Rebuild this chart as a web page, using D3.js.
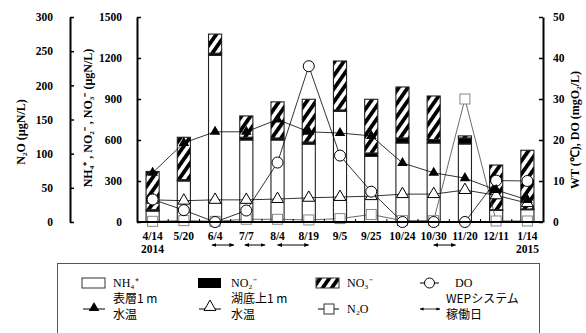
<!DOCTYPE html>
<html>
<head>
<meta charset="utf-8">
<script src="https://cdn.jsdelivr.net/npm/d3@7"></script>
<style>
body { margin:0; background:#fff; }
svg { display:block; }
</style>
</head>
<body>
<script>
// 0.1 data
var dates = ["4/14","5/20","6/4","7/7","8/4","8/19","9/5","9/25","10/24","10/30","11/20","12/11","1/14"];
var years = ["2014","","","","","","","","","","","","2015"];
var nh4 = [80,300,1220,600,600,570,810,480,578,578,571,85,90];
var no2 = [10,10,15,20,15,15,10,25,37,25,44,5,5];
var no3 = [280,310,140,156,264,313,358,393,373,319,15,327,430];
var wtSurface = [12,19.3,22,22,25,22,21.7,21,14.4,12,10.7,7.8,5.4];
var wtBottom = [5.4,5.2,5.4,5.4,5.6,5.9,6.1,6.3,6.8,6.8,7.8,6.5,4.6];
var doVal = [5.5,2.9,0,2.8,14.5,38,16.2,7.4,0,0,0,10.1,10];
var n2o = [1,2,1,4,4,3,5,11,2,2,180,1.5,1.5];
// WEP system operation periods, in category index units
var wepRuns = [[1.9,2.6],[2.95,3.6],[4,5],[9,9.7]];
var ticksN2O = [0,50,100,150,200,250,300];
var ticksN = [0,300,600,900,1200,1500];
var ticksR = [0,10,20,30,40,50];

var W = 586, H = 333;
var plotL = 137, plotR = 543, plotT = 17, plotB = 222;
var serif = '"Liberation Serif", "Times New Roman", serif';
var jfont = '"Noto Sans CJK JP", sans-serif';

var svg = d3.select('body').append('svg').attr('width', W).attr('height', H);

// hatch for NO3
var defs = svg.append('defs');
var pat = defs.append('pattern')
    .attr('id', 'hatch').attr('patternUnits', 'userSpaceOnUse')
    .attr('width', 7.5).attr('height', 7.5)
    .attr('patternTransform', 'rotate(35)');
pat.append('rect').attr('width', 7.5).attr('height', 7.5).attr('fill', '#fff');
pat.append('rect').attr('x', 0).attr('width', 3.8).attr('height', 7.5).attr('fill', '#000');

// 0.2 scales
var x = d3.scaleBand().domain(dates).range([plotL, plotR]).paddingInner(0.58).paddingOuter(0.29);
var step = x.step();
var cx = function(i){ return x(dates[i]) + x.bandwidth()/2; };
var idxX = function(v){ return plotL + step*(v+0.5); };
var yN2O = d3.scaleLinear().domain([0,300]).range([plotB, plotT]);
var yN = d3.scaleLinear().domain([0,1500]).range([plotB, plotT]);
var yR = d3.scaleLinear().domain([0,50]).range([plotB, plotT]);

// 1. stacked bars
var stackData = dates.map(function(d,i){ return {date:d, nh4:nh4[i], no2:no2[i], no3:no3[i]}; });
var series = d3.stack().keys(['nh4','no2','no3'])(stackData);
var fills = {nh4:'#fff', no2:'#000', no3:'url(#hatch)'};
svg.append('g').selectAll('g').data(series).join('g')
    .attr('fill', function(s){ return fills[s.key]; })
    .selectAll('rect').data(function(s){ return s; }).join('rect')
    .attr('x', function(d){ return x(d.data.date); })
    .attr('width', x.bandwidth())
    .attr('y', function(d){ return yN(d[1]); })
    .attr('height', function(d){ return yN(d[0]) - yN(d[1]); })
    .attr('stroke', '#222').attr('stroke-width', 1.1);

// 2. lines and markers
function addLine(vals, scale, col){
    var ln = d3.line().x(function(d,i){ return cx(i); }).y(function(d){ return scale(d); });
    svg.append('path').datum(vals).attr('d', ln)
        .attr('fill', 'none').attr('stroke', col).attr('stroke-width', 0.8);
}
addLine(n2o, yN2O, '#444');
addLine(wtBottom, yR, '#000');
addLine(doVal, yR, '#000');
addLine(wtSurface, yR, '#000');

var triUp = d3.symbol().type(d3.symbolTriangle);
svg.append('g').selectAll('rect').data(n2o).join('rect')
    .attr('x', function(d,i){ return cx(i)-5; }).attr('y', function(d){ return yN2O(d)-5; })
    .attr('width', 10).attr('height', 10)
    .attr('fill', '#fff').attr('stroke', '#888').attr('stroke-width', 1);
svg.append('g').selectAll('path').data(wtBottom).join('path')
    .attr('d', triUp.size(62))
    .attr('transform', function(d,i){ return 'translate(' + cx(i) + ',' + yR(d) + ')'; })
    .attr('fill', '#fff').attr('stroke', '#000').attr('stroke-width', 1);
svg.append('g').selectAll('circle').data(doVal).join('circle')
    .attr('cx', function(d,i){ return cx(i); }).attr('cy', function(d){ return yR(d); })
    .attr('r', 5.5).attr('fill', '#fff').attr('stroke', '#000').attr('stroke-width', 1);
svg.append('g').selectAll('path').data(wtSurface).join('path')
    .attr('d', triUp.size(48))
    .attr('transform', function(d,i){ return 'translate(' + cx(i) + ',' + yR(d) + ')'; })
    .attr('fill', '#000');

// 3. axes
function styleAxis(g){
    g.attr('font-family', null).attr('font-size', null);
    g.select('.domain').attr('stroke-width', 2);
    g.selectAll('.tick line').attr('stroke-width', 1.5);
    g.selectAll('.tick text')
        .style('font-family', serif).style('font-weight', 'bold').style('font-size', '11.5px');
}
var fmt = d3.format('d');
svg.append('g').attr('transform', 'translate(70,0)')
    .call(d3.axisLeft(yN2O).tickValues(ticksN2O).tickFormat(fmt).tickSizeInner(-4).tickSizeOuter(0).tickPadding(17))
    .call(styleAxis);
svg.append('g').attr('transform', 'translate(' + plotL + ',0)')
    .call(d3.axisLeft(yN).tickValues(ticksN).tickFormat(fmt).tickSizeInner(-4).tickSizeOuter(0).tickPadding(15))
    .call(styleAxis);
svg.append('g').attr('transform', 'translate(' + plotR + ',0)')
    .call(d3.axisRight(yR).tickValues(ticksR).tickFormat(fmt).tickSizeInner(-4).tickSizeOuter(0).tickPadding(10))
    .call(styleAxis);

// x axis: boundary ticks pointing up, labels centred on bands
var xa = svg.append('g');
xa.append('line').attr('x1', plotL).attr('x2', plotR).attr('y1', plotB).attr('y2', plotB)
    .attr('stroke', '#000').attr('stroke-width', 2);
xa.selectAll('line.b').data(d3.range(1, dates.length)).join('line').attr('class', 'b')
    .attr('x1', function(i){ return plotL + i*step; }).attr('x2', function(i){ return plotL + i*step; })
    .attr('y1', plotB).attr('y2', plotB-3).attr('stroke', '#000').attr('stroke-width', 1);
xa.selectAll('text.d').data(dates).join('text').attr('class', 'd')
    .attr('x', function(d,i){ return cx(i); }).attr('y', 240)
    .attr('text-anchor', 'middle').text(function(d){ return d; })
    .style('font-family', serif).style('font-weight', 'bold').style('font-size', '11.5px');
xa.selectAll('text.yr').data(years).join('text').attr('class', 'yr')
    .attr('x', function(d,i){ return cx(i); }).attr('y', 253)
    .attr('text-anchor', 'middle').text(function(d){ return d; })
    .style('font-family', serif).style('font-weight', 'bold').style('font-size', '11.5px');

// WEP operation arrows
defs.append('marker').attr('id', 'ah').attr('viewBox', '0 0 10 10').attr('refX', 9).attr('refY', 5)
    .attr('markerWidth', 5).attr('markerHeight', 5).attr('orient', 'auto-start-reverse')
    .append('path').attr('d', 'M0,1 L10,5 L0,9 z').attr('fill', '#000');
svg.append('g').selectAll('line').data(wepRuns).join('line')
    .attr('x1', function(d){ return idxX(d[0]); }).attr('x2', function(d){ return idxX(d[1]); })
    .attr('y1', 245).attr('y2', 245).attr('stroke', '#000').attr('stroke-width', 1)
    .attr('marker-start', 'url(#ah)').attr('marker-end', 'url(#ah)');

// axis titles
function vtitle(xp, yp, txt){
    svg.append('text').attr('transform', 'translate(' + xp + ',' + yp + ') rotate(-90)')
        .attr('text-anchor', 'middle').attr('dy', '0.35em')
        .style('font-family', serif).style('font-weight', 'bold').style('font-size', '12px')
        .text(txt);
}
vtitle(21, 132, 'N₂O  (µgN/L)');
vtitle(88, 118, 'NH₄⁺ , NO₂⁻ , NO₃⁻  (µgN/L)');
vtitle(575, 130, 'WT (℃), DO (mgO₂/L)');

// 4. legend
var lg = svg.append('g');
lg.append('rect').attr('x', 57.5).attr('y', 263.5).attr('width', 482).attr('height', 90)
    .attr('fill', 'none').attr('stroke', '#555').attr('stroke-width', 1);
function ltext(xp, yp, txt, fam){
    lg.append('text').attr('x', xp).attr('y', yp)
        .style('font-family', fam || serif).style('font-size', '12px').text(txt);
}
lg.append('rect').attr('x', 82).attr('y', 278).attr('width', 23).attr('height', 10).attr('fill', '#fff').attr('stroke', '#333');
ltext(113, 287, 'NH₄⁺');
lg.append('rect').attr('x', 198).attr('y', 278).attr('width', 23).attr('height', 10).attr('fill', '#000');
ltext(231, 287, 'NO₂⁻');
lg.append('rect').attr('x', 316).attr('y', 278).attr('width', 23).attr('height', 10).attr('fill', 'url(#hatch)').attr('stroke', '#333');
ltext(347, 287, 'NO₃⁻');
lg.append('line').attr('x1', 420).attr('x2', 439).attr('y1', 283).attr('y2', 283).attr('stroke', '#000');
lg.append('circle').attr('cx', 429.5).attr('cy', 283).attr('r', 5).attr('fill', '#fff').attr('stroke', '#000');
ltext(455, 287, 'DO');

lg.append('line').attr('x1', 83).attr('x2', 105).attr('y1', 309).attr('y2', 309).attr('stroke', '#000');
lg.append('path').attr('d', triUp.size(48)).attr('transform', 'translate(94,308)').attr('fill', '#000');
ltext(113, 303, '表層1 m', jfont);
ltext(113, 319, '水温', jfont);
lg.append('line').attr('x1', 199).attr('x2', 221).attr('y1', 309).attr('y2', 309).attr('stroke', '#000');
lg.append('path').attr('d', triUp.size(62)).attr('transform', 'translate(210,307)').attr('fill', '#fff').attr('stroke', '#000');
ltext(231, 303, '湖底上1 m', jfont);
ltext(231, 319, '水温', jfont);
lg.append('line').attr('x1', 318).attr('x2', 339).attr('y1', 309).attr('y2', 309).attr('stroke', '#000');
lg.append('rect').attr('x', 324).attr('y', 304).attr('width', 10).attr('height', 10).attr('fill', '#fff').attr('stroke', '#333');
ltext(347, 313, 'N₂O');
lg.append('line').attr('x1', 420).attr('x2', 440).attr('y1', 309).attr('y2', 309).attr('stroke', '#000')
    .attr('stroke-width', 0.8).attr('marker-start', 'url(#ah)').attr('marker-end', 'url(#ah)');
ltext(446, 303, 'WEPシステム', jfont);
ltext(446, 319, '稼働日', jfont);
</script>
</body>
</html>
